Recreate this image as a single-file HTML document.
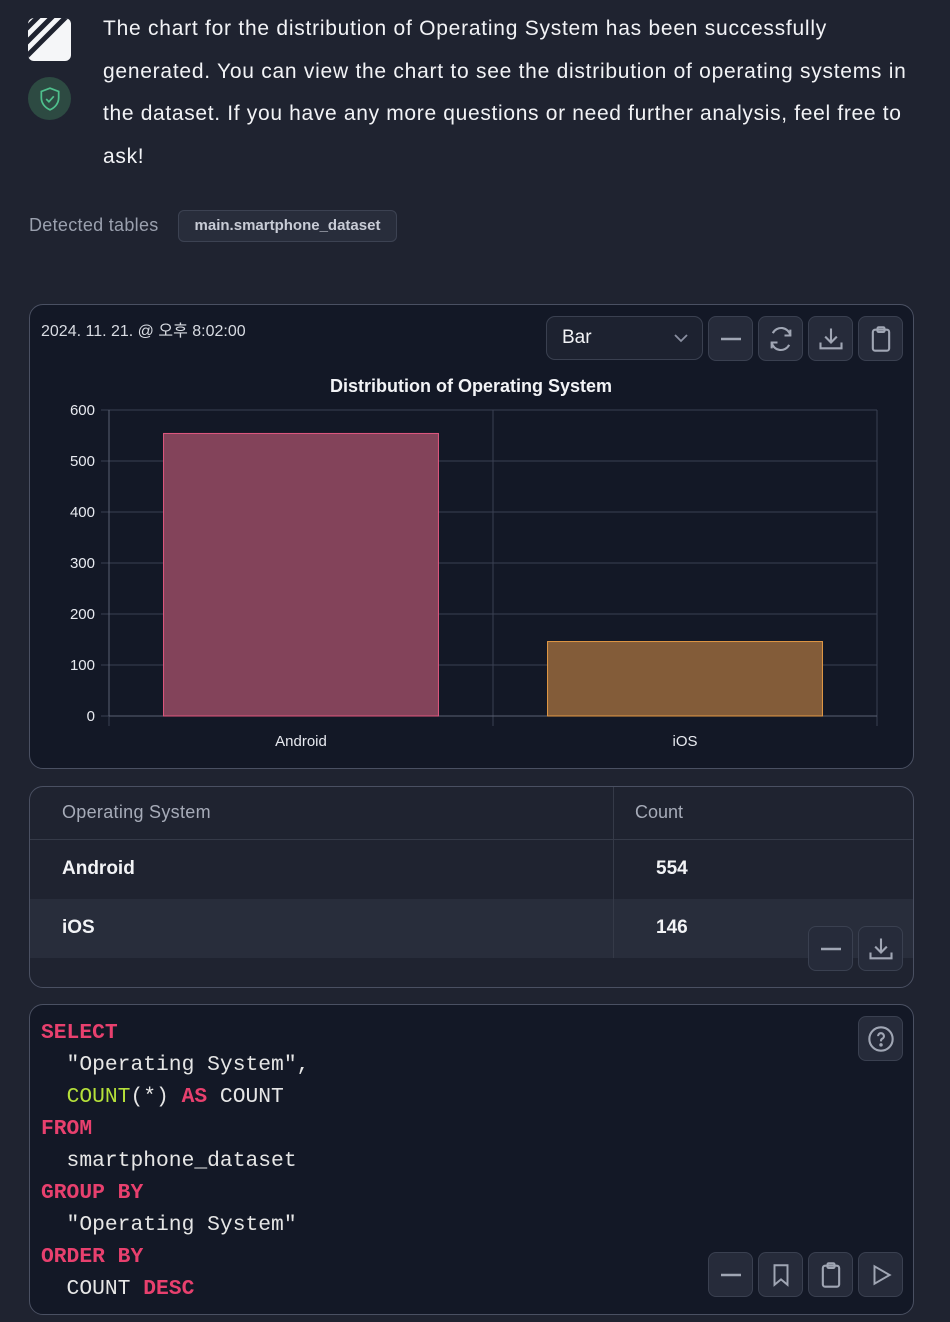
<!DOCTYPE html>
<html><head><meta charset="utf-8"><style>
*{box-sizing:border-box;margin:0;padding:0}
body{width:950px;height:1322px;background:#1f2330;font-family:"Liberation Sans","Noto Sans CJK KR",sans-serif;color:#e8eaf0;position:relative;overflow:hidden}
.abs{position:absolute}
.btn{position:absolute;width:45px;height:45px;border:1px solid #3a4050;border-radius:8px;background:#262b3a;display:flex;align-items:center;justify-content:center}
.card{position:absolute;left:29px;width:885px;border:1px solid #4a5062;border-radius:14px;background:#131826;overflow:hidden}
.code{position:absolute;left:11px;font-family:"Liberation Mono","DejaVu Sans Mono",monospace;font-size:21.3px;color:#e6e6e6;white-space:pre;line-height:32px}
.k{color:#e8406e;font-weight:bold}.f{color:#b5e03a}
.msg span{display:block;white-space:nowrap}
</style></head><body>
<div class="abs" style="left:28px;top:18px;width:43px;height:43px;border-radius:6px;background:#f5f6f8;overflow:hidden">
<svg width="43" height="43"><g stroke="#1f2330" stroke-width="5"><line x1="-5" y1="14" x2="14" y2="-5"/><line x1="-5" y1="28" x2="28" y2="-5"/><line x1="-5" y1="42" x2="42" y2="-5"/></g></svg></div>
<div class="abs" style="left:28px;top:77px;width:43px;height:43px;border-radius:50%;background:#2d4a42;display:flex;align-items:center;justify-content:center">
<svg width="26" height="26" viewBox="0 0 24 24" fill="none" stroke="#4fc08d" stroke-width="1.6"><path d="M12 2l8 3v6c0 5-3.5 9-8 11-4.5-2-8-6-8-11V5z"/><path d="M8.5 12l2.5 2.5 4.5-5"/></svg></div>
<div class="abs msg" style="left:103px;top:8px;font-size:21px;line-height:42.5px;color:#f2f3f6">
<span style="letter-spacing:0.75px">The chart for the distribution of Operating System has been successfully</span>
<span style="letter-spacing:0.74px">generated. You can view the chart to see the distribution of operating systems in</span>
<span style="letter-spacing:0.67px">the dataset. If you have any more questions or need further analysis, feel free to</span>
<span style="letter-spacing:0.7px">ask!</span></div>
<div class="abs" style="left:29px;top:215px;font-size:18px;color:#9aa0ae;letter-spacing:0.3px">Detected tables</div>
<div class="abs" style="left:178px;top:210px;width:219px;height:32px;border:1px solid #3c4252;border-radius:6px;background:#282d3b;font-size:15px;font-weight:bold;color:#c8ccd6;line-height:30px;text-align:center">main.smartphone_dataset</div>

<div class="card" style="top:304px;height:465px">
<div class="abs" style="left:11px;top:12px;font-size:16px;color:#d8dbe2">2024. 11. 21. @ 오후 8:02:00</div>
<div class="abs" style="left:516px;top:11px;width:157px;height:44px;border:1px solid #3a4050;border-radius:9px;background:#1d2230;font-size:19px;color:#f2f3f6;padding:10px 15px">Bar<svg class="abs" style="right:14px;top:17px" width="14" height="9"><path d="M1 1l6 6 6-6" fill="none" stroke="#8a90a0" stroke-width="1.8"/></svg></div>
<div class="btn" style="left:678px;top:11px"><svg width="24" height="24"><line x1="2" y1="12" x2="22" y2="12" stroke="#a0a6b4" stroke-width="2.4"/></svg></div>
<div class="btn" style="left:728px;top:11px"><svg width="28" height="28" viewBox="0 0 24 24" fill="none" stroke="#a0a6b4" stroke-width="1.8"><path d="M20 9A8 8 0 0 0 5 7M4 15a8 8 0 0 0 15 2"/><path d="M20 4v5h-5M4 20v-5h5"/></svg></div>
<div class="btn" style="left:778px;top:11px"><svg width="28" height="28" viewBox="0 0 24 24" fill="none" stroke="#a0a6b4" stroke-width="1.8"><path d="M12 3v12M7 10l5 5 5-5M3 15v5h18v-5"/></svg></div>
<div class="btn" style="left:828px;top:11px"><svg width="28" height="28" viewBox="0 0 24 24" fill="none" stroke="#a0a6b4" stroke-width="1.8"><rect x="5" y="4" width="14" height="18" rx="2"/><rect x="9" y="2" width="6" height="4" rx="1"/></svg></div>
</div>
<svg class="abs" id="chart" style="left:0;top:0" width="950" height="780"></svg>

<div class="card" style="top:786px;height:202px;background:#1f2330">
<div class="abs" style="left:0;top:0;width:885px;height:53px;border-bottom:1px solid #353a48"></div>
<div class="abs" style="left:0;top:53px;width:885px;height:59px;background:#1f2330"></div>
<div class="abs" style="left:0;top:112px;width:885px;height:59px;background:#282d3b"></div>
<div class="abs" style="left:583px;top:0;width:1px;height:171px;background:#353a48"></div>
<div class="abs" style="left:32px;top:15px;font-size:18px;color:#a6abb8;letter-spacing:0.3px">Operating System</div>
<div class="abs" style="left:605px;top:15px;font-size:18px;color:#a6abb8">Count</div>
<div class="abs" style="left:32px;top:71px;font-size:19px;color:#f2f3f6;font-weight:bold">Android</div>
<div class="abs" style="left:626px;top:71px;font-size:19px;color:#f2f3f6;font-weight:bold">554</div>
<div class="abs" style="left:32px;top:130px;font-size:19px;color:#f2f3f6;font-weight:bold">iOS</div>
<div class="abs" style="left:626px;top:130px;font-size:19px;color:#f2f3f6;font-weight:bold">146</div>
<div class="btn" style="left:778px;top:139px"><svg width="24" height="24"><line x1="2" y1="12" x2="22" y2="12" stroke="#a0a6b4" stroke-width="2.4"/></svg></div>
<div class="btn" style="left:828px;top:139px"><svg width="28" height="28" viewBox="0 0 24 24" fill="none" stroke="#a0a6b4" stroke-width="1.8"><path d="M12 3v12M7 10l5 5 5-5M3 15v5h18v-5"/></svg></div>
</div>

<div class="card" style="top:1004px;height:311px">
<div class="code" style="top:12px"><span class="k">SELECT</span>
  "Operating System",
  <span class="f">COUNT</span>(*) <span class="k">AS</span> COUNT
<span class="k">FROM</span>
  smartphone_dataset
<span class="k">GROUP BY</span>
  "Operating System"
<span class="k">ORDER BY</span>
  COUNT <span class="k">DESC</span></div>
<div class="btn" style="left:828px;top:11px"><svg width="28" height="28" viewBox="0 0 24 24" fill="none" stroke="#a0a6b4" stroke-width="1.8"><circle cx="12" cy="12" r="10"/><path d="M9.5 9.5a2.5 2.5 0 1 1 3.5 2.3c-.7.4-1 1-1 1.7v.5"/><circle cx="12" cy="17" r=".6" fill="#a0a6b4"/></svg></div>
<div class="btn" style="left:678px;top:247px"><svg width="24" height="24"><line x1="2" y1="12" x2="22" y2="12" stroke="#a0a6b4" stroke-width="2.4"/></svg></div>
<div class="btn" style="left:728px;top:247px"><svg width="26" height="26" viewBox="0 0 24 24" fill="none" stroke="#a0a6b4" stroke-width="1.8"><path d="M6 3h12v18l-6-5-6 5z"/></svg></div>
<div class="btn" style="left:778px;top:247px"><svg width="28" height="28" viewBox="0 0 24 24" fill="none" stroke="#a0a6b4" stroke-width="1.8"><rect x="5" y="4" width="14" height="18" rx="2"/><rect x="9" y="2" width="6" height="4" rx="1"/></svg></div>
<div class="btn" style="left:828px;top:247px"><svg width="26" height="26" viewBox="0 0 24 24" fill="none" stroke="#a0a6b4" stroke-width="1.8"><path d="M6 4l14 8-14 8z"/></svg></div>
</div>

<script>
const categories=["Android","iOS"];
const counts=[554,146];
const yTicks=[0,100,200,300,400,500,600];
const fills=["#83435a","#835c39"];
const strokes=["#e0577f","#e49a45"];
const L=109,R=877,T=410,B=716,yMax=600;
const svg=document.getElementById('chart');
const NS="http://www.w3.org/2000/svg";
function y(v){return B-(v/yMax)*(B-T);}
const band=(R-L)/categories.length;
function xc(i){return L+band*(i+0.5);}
function mk(t,a,txt){const e=document.createElementNS(NS,t);for(const k in a)e.setAttribute(k,a[k]);if(txt!==undefined)e.textContent=txt;svg.appendChild(e);return e;}
const title=mk('text',{x:471,y:392,'text-anchor':'middle','font-size':18,'font-weight':'bold',fill:'#f2f3f6','font-family':'Liberation Sans, sans-serif'},'Distribution of Operating System');


yTicks.forEach(t=>{
  const g=mk('line',{x1:L-8,x2:R,y1:y(t),y2:y(t),stroke:'#3a4052','stroke-width':1});
  
  
  const l=mk('text',{x:95,y:y(t)+5,'text-anchor':'end','font-size':15,fill:'#e8eaf0','font-family':'Liberation Sans, sans-serif'},String(t));
  
  
});
for(let i=0;i<=categories.length;i++){
  const g=mk('line',{x1:L+band*i,x2:L+band*i,y1:T,y2:B+10,stroke:'#3a4052','stroke-width':1});
  
  
}
mk('line',{x1:L,x2:R,y1:B,y2:B,stroke:'#5a6072','stroke-width':1});
mk('line',{x1:L,x2:L,y1:T,y2:B,stroke:'#5a6072','stroke-width':1});
const bw=band*0.716;
categories.forEach((c,i)=>{
  const r=mk('rect',{x:xc(i)-bw/2,y:y(counts[i]),width:bw,height:B-y(counts[i]),fill:fills[i],stroke:strokes[i],'stroke-width':1});
  
  
  const l=mk('text',{x:xc(i),y:746,'text-anchor':'middle','font-size':15,fill:'#e8eaf0','font-family':'Liberation Sans, sans-serif'},c);
  
  
});
</script>
</body></html>
